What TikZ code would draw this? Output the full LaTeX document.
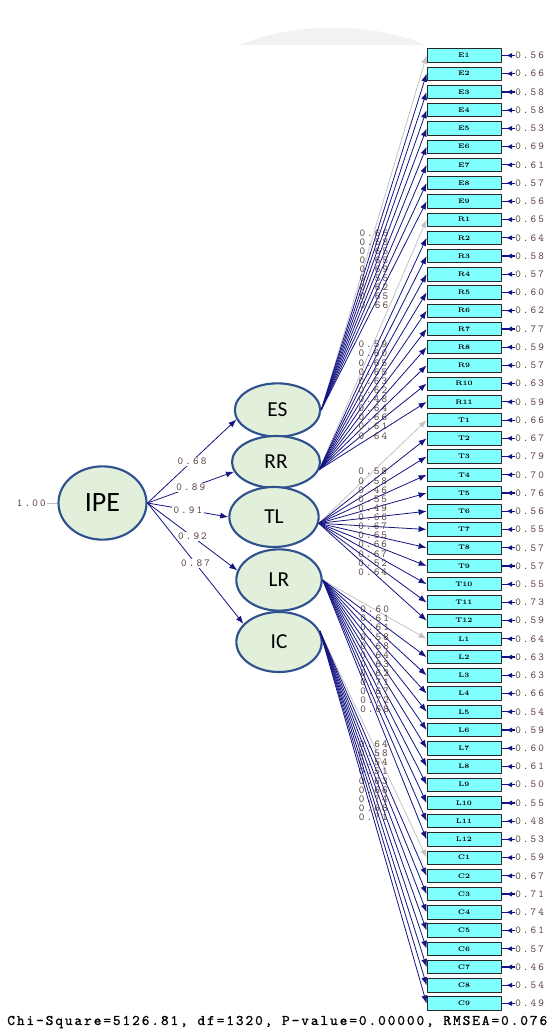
\documentclass[tikz,border=0pt]{standalone}
\usepackage{fontspec}
\newfontfamily\latfont{Carlito}
\newfontfamily\lisfont[LetterSpace=20]{lmmono10-regular.otf}
\newfontfamily\fitfont[LetterSpace=13, FakeBold=1]{lmmono10-regular.otf}
\usetikzlibrary{shapes.geometric,arrows.meta}

\definecolor{pathblue}{RGB}{20,20,130}
\definecolor{fixgray}{RGB}{195,195,195}
\definecolor{boxcyan}{RGB}{128,255,255}
\definecolor{latfill}{RGB}{226,239,218}
\definecolor{latline}{RGB}{47,82,143}
\definecolor{valtext}{RGB}{90,60,60}

\begin{document}
\begin{tikzpicture}[
        x = 0.75pt, y = -0.75pt,
        line join=round,
        latent/.style = {ellipse, draw=latline, line width=1.6pt, fill=latfill, inner sep=0pt},
        indicator/.style = {draw=black!85, line width=0.6pt, fill=boxcyan, minimum width=55.5pt, minimum height=10pt, inner sep=0pt, font=\fontsize{5}{6}\selectfont\bfseries},
        freepath/.style = {pathblue, line width=0.6pt, -{Latex[length=6pt, width=4.5pt]}},
        fixedpath/.style = {fixgray, line width=0.6pt, -{Latex[length=6pt, width=4.5pt]}},
        loadlab/.style = {font=\lisfont\fontsize{8}{9}\selectfont, text=valtext, inner sep=0pt},
        errval/.style = {font=\lisfont\fontsize{8}{9}\selectfont, text=valtext, inner sep=0pt, anchor=west}
    ]

    \useasboundingbox (0, 0) rectangle (557, 1035);

    % faint shade at the top
    \fill[gray!10] (240, 45) .. controls (290, 22) and (375, 22) .. (425, 45) -- cycle;

    % latent variables
    \node[latent, minimum width=66pt, minimum height=55pt, font=\latfont\fontsize{21}{24}\selectfont] (IPE) at (102.5, 503) {IPE};
    \node[latent, minimum width=64pt, minimum height=40pt, font=\latfont\fontsize{16}{18}\selectfont] (ES) at (277.5, 410) {ES};
    \node[latent, minimum width=66pt, minimum height=39pt, font=\latfont\fontsize{16}{18}\selectfont] (RR) at (276, 462) {RR};
    \node[latent, minimum width=67pt, minimum height=45pt, font=\latfont\fontsize{16}{18}\selectfont] (TL) at (274, 517) {TL};
    \node[latent, minimum width=64pt, minimum height=46pt, font=\latfont\fontsize{16}{18}\selectfont] (LR) at (279, 580) {LR};
    \node[latent, minimum width=64pt, minimum height=45pt, font=\latfont\fontsize{16}{18}\selectfont] (IC) at (279, 642) {IC};

    \coordinate (ES-out) at (ES.east);
    \coordinate (RR-out) at (RR.-10);
    \coordinate (TL-out) at (TL.-8);
    \coordinate (LR-out) at (LR.east);
    \coordinate (IC-out) at (IC.15);

    % second order loadings
    \draw[freepath] (IPE.east) -- node[midway, loadlab, fill=white, inner sep=1pt] (lES) {0.68} (ES.193);
    \draw[freepath] (IPE.east) -- node[midway, loadlab, fill=white, inner sep=1pt] (lRR) {0.89} (RR.193);
    \draw[freepath] (IPE.east) -- node[midway, loadlab, fill=white, inner sep=1pt] (lTL) {0.91} (TL.west);
    \draw[freepath] (IPE.east) -- node[midway, loadlab, fill=white, inner sep=1pt] (lLR) {0.92} (LR.167);
    \draw[freepath] (IPE.east) -- node[midway, loadlab, fill=white, inner sep=1pt] (lIC) {0.87} (IC.153);

    \draw[gray!50, line width=0.6pt] (IPE.west) -- ++(-10, 0) node[left, loadlab, inner sep=1pt] (vIPE) {1.00};

    % indicators
    \foreach \n/\f/\l/\e/\s [count=\k from 0] in {
        E1/ES/0.66/0.56/fixedpath, E2/ES/0.58/0.66/freepath, E3/ES/0.65/0.58/freepath,
        E4/ES/0.65/0.58/freepath, E5/ES/0.69/0.53/freepath, E6/ES/0.55/0.69/freepath,
        E7/ES/0.62/0.61/freepath, E8/ES/0.65/0.57/freepath, E9/ES/0.66/0.56/freepath,
        R1/RR/0.59/0.65/fixedpath, R2/RR/0.60/0.64/freepath, R3/RR/0.65/0.58/freepath,
        R4/RR/0.65/0.57/freepath, R5/RR/0.63/0.60/freepath, R6/RR/0.62/0.62/freepath,
        R7/RR/0.48/0.77/freepath, R8/RR/0.64/0.59/freepath, R9/RR/0.66/0.57/freepath,
        R10/RR/0.61/0.63/freepath, R11/RR/0.64/0.59/freepath,
        T1/TL/0.58/0.66/fixedpath, T2/TL/0.58/0.67/freepath, T3/TL/0.46/0.79/freepath,
        T4/TL/0.55/0.70/freepath, T5/TL/0.49/0.76/freepath, T6/TL/0.66/0.56/freepath,
        T7/TL/0.67/0.55/freepath, T8/TL/0.65/0.57/freepath, T9/TL/0.66/0.57/freepath,
        T10/TL/0.67/0.55/freepath, T11/TL/0.52/0.73/freepath, T12/TL/0.64/0.59/freepath,
        L1/LR/0.60/0.64/fixedpath, L2/LR/0.61/0.63/freepath, L3/LR/0.61/0.63/freepath,
        L4/LR/0.58/0.66/freepath, L5/LR/0.68/0.54/freepath, L6/LR/0.64/0.59/freepath,
        L7/LR/0.63/0.60/freepath, L8/LR/0.62/0.61/freepath, L9/LR/0.71/0.50/freepath,
        L10/LR/0.67/0.55/freepath, L11/LR/0.72/0.48/freepath, L12/LR/0.68/0.53/freepath,
        C1/IC/0.64/0.59/fixedpath, C2/IC/0.58/0.67/freepath, C3/IC/0.54/0.71/freepath,
        C4/IC/0.51/0.74/freepath, C5/IC/0.63/0.61/freepath, C6/IC/0.66/0.57/freepath,
        C7/IC/0.74/0.46/freepath, C8/IC/0.68/0.54/freepath, C9/IC/0.71/0.49/freepath} {
        \node[indicator] (\n) at (464, {55.5 + 18.23*\k}) {\n};
        \node[errval] (e\n) at (515, {55.5 + 18.23*\k}) {\e};
        \draw[\s] (\f-out) -- node[midway, loadlab] (l\n) {\l} (\n.west);
        \draw[pathblue, line width=0.9pt] (\n.east) -- (e\n.west);
        \draw[pathblue, line width=0.9pt, -{Latex[length=4.5pt, width=4pt]}, shorten >=3.5pt] (e\n.west) -- (\n.east);
    }

    \node[font=\fitfont\fontsize{11}{13}\selectfont, anchor=west, inner sep=0pt] (fit) at (7, 1022) {Chi-Square=5126.81, df=1320, P-value=0.00000, RMSEA=0.076};

\end{tikzpicture}
\end{document}
